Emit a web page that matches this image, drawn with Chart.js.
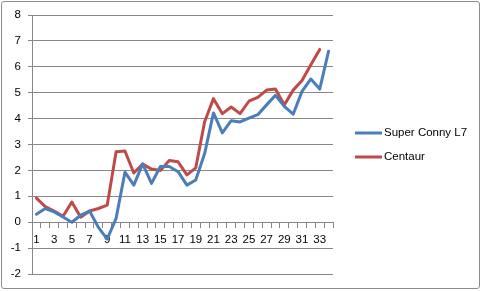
<!DOCTYPE html>
<html>
<head>
<meta charset="utf-8">
<script src="https://cdn.jsdelivr.net/npm/chart.js@4/dist/chart.umd.min.js"></script>
<style>
  html, body { margin: 0; padding: 0; background: #fff; }
  #wrap { position: relative; width: 483px; height: 291px; }
  #frame { position: absolute; left: 1px; top: 1px; width: 477px; height: 286px; border: 1px solid #8c8c8c; border-radius: 3px; }
  canvas { position: absolute; left: 0; top: 0; }
</style>
</head>
<body>
<div id="wrap">
  <div id="frame"></div>
  <canvas id="c" width="483" height="291"></canvas>
</div>
<script>
const categories = ['1','2','3','4','5','6','7','8','9','10','11','12','13','14','15','16','17','18','19','20','21','22','23','24','25','26','27','28','29','30','31','32','33','34'];
const superConny = [0.31,0.53,0.4,0.2,0.0,0.27,0.43,-0.2,-0.65,0.15,1.93,1.43,2.25,1.5,2.15,2.15,1.95,1.43,1.63,2.65,4.22,3.45,3.92,3.87,4.02,4.15,4.53,4.9,4.47,4.17,5.05,5.53,5.14,6.6];
const centaur = [0.93,0.6,0.43,0.23,0.78,0.19,0.43,0.53,0.66,2.72,2.75,1.9,2.25,2.05,2.0,2.38,2.33,1.83,2.1,3.88,4.77,4.19,4.45,4.19,4.67,4.82,5.1,5.14,4.53,5.1,5.47,6.08,6.67];
const seriesNames = ['Super Conny L7', 'Centaur'];
const seriesColors = ['#4A7EBB', '#BE4B48'];
const yMin = -2, yMax = 8, yStep = 1;

const FONT = 'Liberation Sans, Arial, sans-serif';
const GRID = '#878787';

const legendPlugin = {
  id: 'sideLegend',
  afterDraw(chart) {
    const ctx = chart.ctx;
    ctx.save();
    chart.data.datasets.forEach((ds, i) => {
      const y = 133 + i * 24;
      ctx.strokeStyle = ds.borderColor;
      ctx.lineWidth = 3;
      ctx.beginPath();
      ctx.moveTo(355, y);
      ctx.lineTo(382, y);
      ctx.stroke();
      ctx.fillStyle = '#000';
      ctx.font = '11.5px ' + FONT;
      ctx.textBaseline = 'middle';
      ctx.textAlign = 'left';
      ctx.fillText(ds.label, 384, y);
    });
    ctx.restore();
  }
};

new Chart(document.getElementById('c'), {
  type: 'line',
  data: {
    labels: categories,
    datasets: [
      { label: seriesNames[0], data: superConny, borderColor: seriesColors[0], backgroundColor: seriesColors[0] },
      { label: seriesNames[1], data: centaur, borderColor: seriesColors[1], backgroundColor: seriesColors[1] }
    ]
  },
  options: {
    responsive: false,
    animation: false,
    devicePixelRatio: 1,
    layout: { padding: { left: 0, right: 150, top: 15, bottom: 17 } },
    elements: {
      line: { borderWidth: 3, tension: 0, borderJoinStyle: 'round', borderCapStyle: 'round' },
      point: { radius: 0, hoverRadius: 0 }
    },
    plugins: { legend: { display: false }, tooltip: { enabled: false } },
    scales: {
      x: {
        position: { y: 0 },
        offset: true,
        grid: { offset: true, drawOnChartArea: false, drawTicks: true, tickLength: 5, color: GRID },
        border: { color: GRID, width: 1 },
        ticks: {
          autoSkip: false, maxRotation: 0, padding: 6, color: '#000',
          font: { family: FONT, size: 11.5 },
          callback: (v, i) => (i % 2 === 0 ? categories[i] : '')
        }
      },
      y: {
        min: yMin, max: yMax,
        afterFit: s => { s.width = 32; },
        grid: { color: GRID, tickLength: 4 },
        border: { color: GRID, width: 1 },
        ticks: { stepSize: yStep, padding: 7, color: '#000', font: { family: FONT, size: 11.5 } }
      }
    }
  },
  plugins: [legendPlugin]
});
</script>
</body>
</html>
